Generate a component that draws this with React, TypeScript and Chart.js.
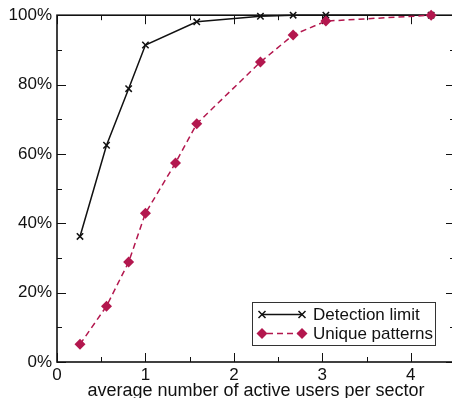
import React, { useEffect, useRef } from 'react';
import { Chart, registerables } from 'chart.js';

Chart.register(...registerables);

const detectionX = [0.26, 0.56, 0.81, 1.0, 1.58, 2.3, 2.67, 3.04, 4.23];
const detectionY = [36.2, 62.5, 78.8, 91.4, 98.1, 99.7, 100, 100, 100];
const uniqueX = [0.26, 0.56, 0.81, 1.0, 1.34, 1.58, 2.3, 2.67, 3.04, 4.23];
const uniqueY = [5.1, 16.1, 28.8, 42.9, 57.4, 68.7, 86.5, 94.3, 98.3, 100];
const xMajorTicks = [0, 1, 2, 3, 4];
const xMinorTicks = [0.5, 1.5, 2.5, 3.5];
const yMajorTicks = [0, 20, 40, 60, 80, 100];
const yMinorTicks = [10, 30, 50, 70, 90];
const seriesNames = ['Detection limit', 'Unique patterns'];
const xAxisTitle = 'average number of active users per sector';

const FONT = '"Liberation Sans", Arial, Helvetica, sans-serif';
const CRIMSON = '#b3174e';
const INK = '#111111';

function drawCross(ctx: CanvasRenderingContext2D, x: number, y: number, r: number) {
  ctx.beginPath();
  ctx.moveTo(x - r, y - r);
  ctx.lineTo(x + r, y + r);
  ctx.moveTo(x + r, y - r);
  ctx.lineTo(x - r, y + r);
  ctx.stroke();
}

function drawDiamond(ctx: CanvasRenderingContext2D, x: number, y: number, r: number) {
  ctx.beginPath();
  ctx.moveTo(x, y - r);
  ctx.lineTo(x + r, y);
  ctx.lineTo(x, y + r);
  ctx.lineTo(x - r, y);
  ctx.closePath();
  ctx.fill();
}

const framePlugin = {
  id: 'frame',
  beforeDatasetsDraw(chart: any) {
    const { ctx, chartArea: a, scales } = chart;
    const xs = scales.x;
    const ys = scales.y;
    ctx.save();
    ctx.strokeStyle = INK;
    ctx.lineWidth = 1;
    const seg = (x1: number, y1: number, x2: number, y2: number) => {
      ctx.beginPath();
      ctx.moveTo(x1, y1);
      ctx.lineTo(x2, y2);
      ctx.stroke();
    };
    const xt = (v: number, len: number) => {
      const p = Math.round(xs.getPixelForValue(v)) + 0.5;
      seg(p, a.bottom, p, a.bottom - len);
      seg(p, a.top, p, a.top + len);
    };
    const yt = (v: number, len: number) => {
      const p = Math.round(ys.getPixelForValue(v)) + 0.5;
      seg(a.left, p, a.left + len, p);
      seg(a.right, p, a.right - len, p);
    };
    xMajorTicks.forEach((v) => xt(v, 9));
    xMinorTicks.forEach((v) => xt(v, 5));
    yMajorTicks.forEach((v) => yt(v, 9));
    yMinorTicks.forEach((v) => yt(v, 5));
    ctx.lineWidth = 1.6;
    ctx.strokeRect(a.left, a.top, a.right - a.left, a.bottom - a.top);
    ctx.restore();
  },
  afterDraw(chart: any) {
    const { ctx, chartArea: a } = chart;
    ctx.save();
    // axis title
    ctx.fillStyle = INK;
    ctx.font = `18px ${FONT}`;
    ctx.textAlign = 'center';
    ctx.textBaseline = 'alphabetic';
    ctx.fillText(xAxisTitle, (a.left + a.right) / 2, 396);

    // legend
    const bx = Math.round(a.right - 203.5) + 0.5;
    const by = Math.round(a.bottom - 60.5) + 0.5;
    const bw = 183;
    const bh = 43;
    ctx.fillStyle = '#ffffff';
    ctx.fillRect(bx, by, bw, bh);
    ctx.strokeStyle = '#333333';
    ctx.lineWidth = 1;
    ctx.strokeRect(bx, by, bw, bh);

    const x1 = bx + 9.5;
    const x2 = bx + 49.5;
    const r1 = by + 12;
    const r2 = by + 31;
    ctx.strokeStyle = INK;
    ctx.lineWidth = 1.5;
    ctx.beginPath();
    ctx.moveTo(x1, r1);
    ctx.lineTo(x2, r1);
    ctx.stroke();
    drawCross(ctx, x1, r1, 3.5);
    drawCross(ctx, x2, r1, 3.5);

    ctx.strokeStyle = CRIMSON;
    ctx.fillStyle = CRIMSON;
    ctx.setLineDash([6, 4]);
    ctx.beginPath();
    ctx.moveTo(x1 + 5, r2);
    ctx.lineTo(x2 - 4, r2);
    ctx.stroke();
    ctx.setLineDash([]);
    drawDiamond(ctx, x1, r2, 5.5);
    drawDiamond(ctx, x2, r2, 5.5);

    ctx.fillStyle = INK;
    ctx.font = `17px ${FONT}`;
    ctx.textAlign = 'left';
    ctx.textBaseline = 'middle';
    ctx.fillText(seriesNames[0], bx + 60.5, r1 + 1);
    ctx.fillText(seriesNames[1], bx + 60.5, r2 + 1);
    ctx.restore();
  },
};

export default function App() {
  const ref = useRef<HTMLCanvasElement | null>(null);

  useEffect(() => {
    if (!ref.current) return;
    const chart = new Chart(ref.current, {
      type: 'scatter',
      data: {
        datasets: [
          {
            label: seriesNames[0],
            data: detectionX.map((x, i) => ({ x, y: detectionY[i] })),
            showLine: true,
            borderColor: INK,
            backgroundColor: INK,
            borderWidth: 1.5,
            pointStyle: 'crossRot',
            pointRadius: 4.5,
            pointBorderWidth: 1.5,
            pointBorderColor: INK,
            clip: false as any,
            order: 2,
          },
          {
            label: seriesNames[1],
            data: uniqueX.map((x, i) => ({ x, y: uniqueY[i] })),
            showLine: true,
            borderColor: CRIMSON,
            backgroundColor: CRIMSON,
            borderWidth: 1.5,
            borderDash: [6, 4],
            pointStyle: 'rectRot',
            pointRadius: 5.5,
            pointBorderWidth: 0,
            pointBackgroundColor: CRIMSON,
            clip: false as any,
            order: 1,
          },
        ],
      },
      options: {
        animation: false,
        responsive: false,
        devicePixelRatio: 1,
        layout: { padding: { left: 0, right: 0, top: 14, bottom: 0 } },
        plugins: {
          legend: { display: false },
          tooltip: { enabled: false },
        },
        scales: {
          x: {
            type: 'linear',
            min: 0,
            max: 4.5,
            grid: { display: false, drawTicks: false },
            border: { display: false },
            afterBuildTicks: (s: any) => {
              s.ticks = xMajorTicks.map((v) => ({ value: v }));
            },
            afterFit: (s: any) => {
              s.height = 36;
            },
            ticks: {
              padding: 3,
              color: INK,
              font: { size: 17, family: FONT },
              callback: (v: any) => String(v),
            },
          },
          y: {
            type: 'linear',
            min: 0,
            max: 100,
            grid: { display: false, drawTicks: false },
            border: { display: false },
            afterBuildTicks: (s: any) => {
              s.ticks = yMajorTicks.map((v) => ({ value: v }));
            },
            afterFit: (s: any) => {
              s.width = 57;
            },
            ticks: {
              padding: 5,
              color: INK,
              font: { size: 17, family: FONT },
              callback: (v: any) => `${v}%`,
            },
          },
        },
      },
      plugins: [framePlugin],
    });
    return () => chart.destroy();
  }, []);

  return (
    <div
      style={{
        position: 'absolute',
        left: 0,
        top: 0,
        width: 452,
        height: 398,
        overflow: 'hidden',
        background: '#fff',
      }}
    >
      <canvas ref={ref} width={461} height={398} style={{ display: 'block', width: 461, height: 398 }} />
    </div>
  );
}
